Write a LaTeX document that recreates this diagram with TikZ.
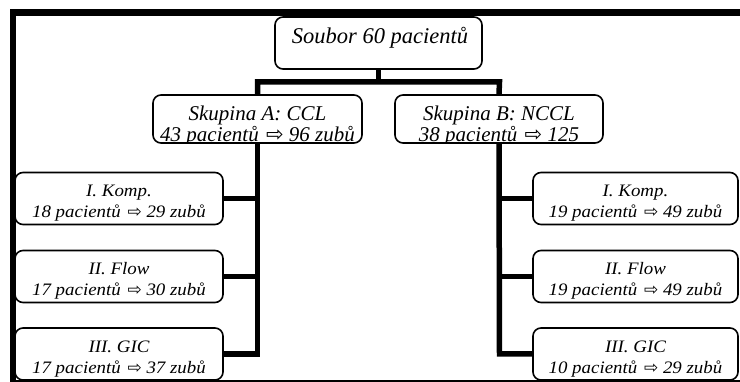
\documentclass[tikz,border=0pt]{standalone}
\usepackage{fontspec}
\setmainfont{Liberation Serif}
\newfontfamily\subfont[FakeStretch=1.08]{Liberation Serif}
\newfontfamily\arrfont{DejaVu Sans}
\newcommand\myarrow[1]{\hspace{2pt}{\arrfont\upshape\fontsize{#1}{#1}\selectfont ⇨}}
\begin{document}
\begin{tikzpicture}[x=1pt,y=-1pt,
  box/.style={draw, line width=1.6pt, rounded corners=8pt, fill=white, inner sep=0pt},
  sbox/.style={box, minimum width=208pt, minimum height=52pt},
  conn/.style={line width=5.5pt, line join=miter},
  big/.style={inner sep=0pt, anchor=base, font=\itshape\fontsize{21}{23}\selectfont},
  huge/.style={inner sep=0pt, anchor=base, font=\itshape\fontsize{22.5}{24}\selectfont},
  small/.style={inner sep=0pt, anchor=base, font=\subfont\itshape\fontsize{17.5}{19}\selectfont}]
\useasboundingbox (0,0) rectangle (740,382);
% connector joints
\coordinate (aT) at (257.5,82);
\coordinate (bT) at (499.5,82);
\coordinate (aB) at (257.5,354);
\coordinate (bB) at (499.5,354);
% boxes
\node[box, minimum width=207pt, minimum height=52pt] (S) at (378.5,43) {};
\node[box, minimum width=209pt, minimum height=48pt] (A) at (257.5,119) {};
\node[box, minimum width=208pt, minimum height=48pt] (B) at (499,119) {};
\node[sbox] (A1) at (119,198.5) {};
\node[sbox] (A2) at (119,276.5) {};
\node[sbox] (A3) at (119,354) {};
\node[sbox, minimum width=205pt] (B1) at (635.5,198.5) {};
\node[sbox, minimum width=205pt] (B2) at (635.5,276.5) {};
\node[sbox, minimum width=205pt] (B3) at (635.5,354) {};
% connectors
\draw[conn] (S.south) -- (S.south |- aT);
\draw[conn] (A3.east) -- (aB) -- (A.south);
\draw[conn] (A.north) -- (aT) -- (bT) -- (B.north);
\draw[conn] (B.south) -- (bB) -- (B3.west);
\draw[conn] (A1.east) -- (A1.east -| aB);
\draw[conn] (A2.east) -- (A2.east -| aB);
\draw[conn] (B1.west) -- (B1.west -| bB);
\draw[conn] (B2.west) -- (B2.west -| bB);
% texts
\node[huge] (St) at (380,44) {Soubor 60 pacientů};
\node[big] (At1) at (257.5,121) {Skupina A: CCL};
\node[big] (Bt1) at (499,121) {Skupina B: NCCL};
\begin{scope}
\clip[rounded corners=8pt] (A.south west) rectangle (A.north east);
\node[big] (At2) at (257.5,141.7) {43 pacientů \myarrow{21} 96 zubů};
\end{scope}
\begin{scope}
\clip[rounded corners=8pt] (B.south west) rectangle (B.north east);
\node[big] (Bt2) at (499,141.7) {38 pacientů \myarrow{21} 125};
\end{scope}
\node[small] (A1a) at (119,197) {I. Komp.};
\node[small] (A1b) at (119,217.7) {18 pacientů \myarrow{17} 29 zubů};
\node[small] (A2a) at (119,275) {II. Flow};
\node[small] (A2b) at (119,295.7) {17 pacientů \myarrow{17} 30 zubů};
\node[small] (A3a) at (119,352.5) {III. GIC};
\node[small] (A3b) at (119,373.2) {17 pacientů \myarrow{17} 37 zubů};
\node[small] (B1a) at (635.5,197) {I. Komp.};
\node[small] (B1b) at (635.5,217.7) {19 pacientů \myarrow{17} 49 zubů};
\node[small] (B2a) at (635.5,275) {II. Flow};
\node[small] (B2b) at (635.5,295.7) {19 pacientů \myarrow{17} 49 zubů};
\node[small] (B3a) at (635.5,352.5) {III. GIC};
\node[small] (B3b) at (635.5,373.2) {10 pacientů \myarrow{17} 29 zubů};
% frame
\draw[line width=6.5pt] (740,12.5) -- (13,12.5) -- (13,382);
\draw[line width=1.5pt] (13,381.2) -- (740,381.2);
\end{tikzpicture}
\end{document}
